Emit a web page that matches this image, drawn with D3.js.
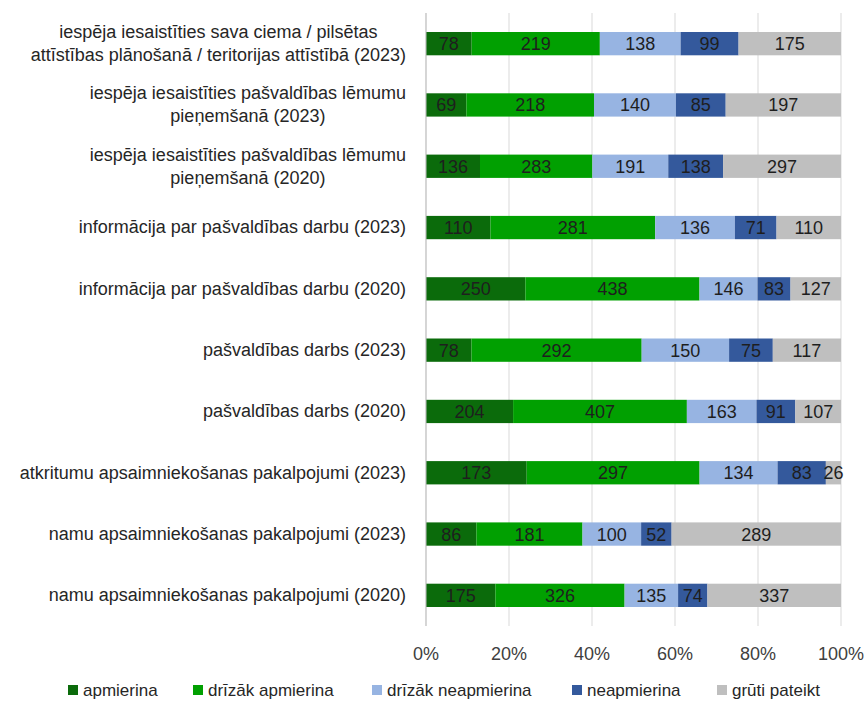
<!DOCTYPE html>
<html>
<head>
<meta charset="utf-8">
<script src="https://cdn.jsdelivr.net/npm/d3@7"></script>
<style>
  html, body { margin: 0; padding: 0; background: #fff; }
  svg { display: block; }
  text { font-family: "Liberation Sans", Arial, sans-serif; }
</style>
</head>
<body>
<svg id="chart" width="867" height="713"></svg>
<script>
// Survey categories, top to bottom ("\n" marks a line break in the label)
const categories = [
  "iespēja iesaistīties sava ciema / pilsētas\nattīstības plānošanā / teritorijas attīstībā (2023)",
  "iespēja iesaistīties pašvaldības lēmumu\npieņemšanā (2023)",
  "iespēja iesaistīties pašvaldības lēmumu\npieņemšanā (2020)",
  "informācija par pašvaldības darbu (2023)",
  "informācija par pašvaldības darbu (2020)",
  "pašvaldības darbs (2023)",
  "pašvaldības darbs (2020)",
  "atkritumu apsaimniekošanas pakalpojumi (2023)",
  "namu apsaimniekošanas pakalpojumi (2023)",
  "namu apsaimniekošanas pakalpojumi (2020)"
];

const seriesNames = ["apmierina", "drīzāk apmierina", "drīzāk neapmierina", "neapmierina", "grūti pateikt"];
const seriesColors = ["#0b6b0b", "#01a001", "#97b4e2", "#34599c", "#bfbfbf"];

// Respondent counts per answer, one array per series (same order as categories)
const apmierina         = [78, 69, 136, 110, 250, 78, 204, 173, 86, 175];
const drizakApmierina   = [219, 218, 283, 281, 438, 292, 407, 297, 181, 326];
const drizakNeapmierina = [138, 140, 191, 136, 146, 150, 163, 134, 100, 135];
const neapmierina       = [99, 85, 138, 71, 83, 75, 91, 83, 52, 74];
const grutiPateikt      = [175, 197, 297, 110, 127, 117, 107, 26, 289, 337];

const tickValues = [0, 0.2, 0.4, 0.6, 0.8, 1.0];

const seriesValues = [apmierina, drizakApmierina, drizakNeapmierina, neapmierina, grutiPateikt];

// Build rows with shares of the row total
const rows = categories.map((c, i) => {
  const vals = seriesValues.map(s => s[i]);
  const total = d3.sum(vals);
  const row = { category: c, total };
  seriesNames.forEach((n, k) => { row[n] = vals[k] / total; row[n + "_n"] = vals[k]; });
  return row;
});

const stack = d3.stack().keys(seriesNames);
const stacked = stack(rows);

const svg = d3.select("#chart");
const margin = { top: 13, left: 426, right: 26, bottom: 87 };
const W = 867, H = 713;

const x = d3.scaleLinear().domain([0, 1]).range([margin.left, W - margin.right]);
const y = d3.scaleBand().domain(categories).range([margin.top, H - margin.bottom]).paddingInner(0.62).paddingOuter(0.31);
const color = d3.scaleOrdinal().domain(seriesNames).range(seriesColors);

// Vertical gridlines
svg.append("g")
  .selectAll("line")
  .data(tickValues)
  .join("line")
  .attr("x1", d => x(d)).attr("x2", d => x(d))
  .attr("y1", margin.top).attr("y2", H - margin.bottom)
  .attr("stroke", "#d9d9d9").attr("stroke-width", 1);

// Bars
const layer = svg.append("g")
  .selectAll("g")
  .data(stacked)
  .join("g")
  .attr("fill", d => color(d.key));

layer.selectAll("rect")
  .data(d => d.map(p => ({ key: d.key, p })))
  .join("rect")
  .attr("x", d => x(d.p[0]))
  .attr("width", d => x(d.p[1]) - x(d.p[0]))
  .attr("y", d => y(d.p.data.category))
  .attr("height", y.bandwidth());

// Value labels (counts) centered in each segment
layer.selectAll("text")
  .data(d => d.map(p => ({ key: d.key, p })))
  .join("text")
  .attr("x", d => (x(d.p[0]) + x(d.p[1])) / 2)
  .attr("y", d => y(d.p.data.category) + y.bandwidth() / 2)
  .attr("dy", "0.36em")
  .attr("text-anchor", "middle")
  .attr("font-size", 18)
  .attr("fill", "#1e1e1e")
  .text(d => d.p.data[d.key + "_n"]);

// Left axis line
svg.append("line")
  .attr("x1", x(0)).attr("x2", x(0))
  .attr("y1", margin.top).attr("y2", H - margin.bottom)
  .attr("stroke", "#bfbfbf");

// Category labels: block right-aligned, lines centered within the block
const labelRight = 406;
const catG = svg.append("g").attr("font-size", 18).attr("fill", "#262626");
categories.forEach(c => {
  const lines = c.split("\n");
  const g = catG.append("g");
  const lineH = 23;
  const cy = y(c) + y.bandwidth() / 2;
  const texts = lines.map((ln, i) =>
    g.append("text")
      .attr("y", cy + (i - (lines.length - 1) / 2) * lineH)
      .attr("dy", "0.33em")
      .attr("text-anchor", "middle")
      .text(ln));
  const widths = texts.map(t => t.node().getComputedTextLength());
  const maxW = d3.max(widths);
  texts.forEach(t => t.attr("x", labelRight - maxW / 2));
});

// X axis tick labels
svg.append("g")
  .selectAll("text")
  .data(tickValues)
  .join("text")
  .attr("x", d => x(d))
  .attr("y", 654)
  .attr("dy", "0.36em")
  .attr("text-anchor", "middle")
  .attr("font-size", 18)
  .attr("fill", "#404040")
  .text(d3.format(".0%"));

// Legend
const legendX = [68, 193, 372, 572, 717];
const legend = svg.append("g").attr("font-size", 17).attr("fill", "#262626");
seriesNames.forEach((n, i) => {
  legend.append("rect")
    .attr("x", legendX[i]).attr("y", 685)
    .attr("width", 10).attr("height", 10)
    .attr("fill", color(n));
  legend.append("text")
    .attr("x", legendX[i] + 15).attr("y", 690)
    .attr("dy", "0.36em")
    .text(n);
});
</script>
</body>
</html>
